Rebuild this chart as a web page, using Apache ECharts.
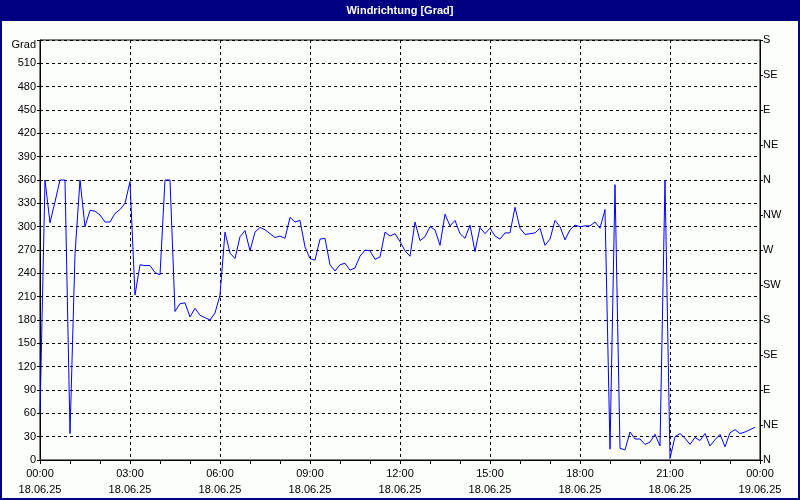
<!DOCTYPE html>
<html><head><meta charset="utf-8">
<script src="https://cdn.jsdelivr.net/npm/echarts@6/dist/echarts.min.js"></script>
<style>html,body{margin:0;padding:0;background:#fcfefc}#c{width:800px;height:500px}</style>
</head><body><div id="c"></div>
<script>
const chartTitle = 'Windrichtung [Grad]';
const leftAxisName = 'Grad';
// samples every 10 minutes starting 18.06.25 00:00
const sampleStartMinute = 0;
const sampleStepMinutes = 10;
const direction = [
  60,360,305,332,360,360,34,265,360,300,
  321,320,315,306,306,317,322,330,358,212,
  251,250,250,241,238,360,360,191,201,202,
  184,195,186,183,180,189,212,293,266,259,
  287,295,269,293,299,296,291,286,288,285,
  312,306,308,274,259,257,284,285,251,243,
  251,253,244,247,262,270,269,258,261,293,
  288,291,281,269,262,306,282,287,300,296,
  276,316,301,308,291,285,302,268,299,291,
  298,288,284,292,292,325,298,290,291,292,
  298,276,284,308,300,283,296,302,300,301,
  301,306,298,322,14,354,15,13,36,27,
  27,20,23,33,18,360,2,30,34,28,
  20,29,25,34,18,26,33,17,35,39,
  34,36,39,42
];
const xTickTimes = ['00:00','03:00','06:00','09:00','12:00','15:00','18:00','21:00','00:00'];
const xTickDates = ['18.06.25','18.06.25','18.06.25','18.06.25','18.06.25','18.06.25','18.06.25','18.06.25','19.06.25'];
const compassLabels = ['N','NE','E','SE','S','SW','W','NW','N','NE','E','SE','S'];

const seriesData = direction.map((v, i) => [sampleStartMinute + i * sampleStepMinutes, v]);
const FONT = 'Liberation Sans';
const chart = echarts.init(document.getElementById('c'), null, {renderer: 'canvas'});
chart.setOption({
  animation: false,
  backgroundColor: '#fcfefc',
  textStyle: {fontFamily: FONT},
  grid: {left: 40, right: 40, top: 40, bottom: 40, show: true, borderColor: '#000', borderWidth: 1, backgroundColor: 'transparent'},
  graphic: [
    {type: 'rect', shape: {x: 0, y: 0, width: 800, height: 21}, style: {fill: '#000080'}, z: 100},
    {type: 'rect', shape: {x: 0, y: 0, width: 800, height: 500}, style: {fill: 'none', stroke: '#000080', lineWidth: 4}, z: 100},
    {type: 'text', x: 400, y: 11, style: {text: chartTitle, fill: '#ffffff', font: 'bold 11px "Liberation Sans"', textAlign: 'center', textVerticalAlign: 'middle'}, z: 101}
  ],
  xAxis: {
    type: 'value', min: 0, max: 1440, interval: 180,
    axisLine: {show: true, lineStyle: {color: '#000', width: 1}},
    axisTick: {show: true, length: 4, lineStyle: {color: '#000'}},
    minorTick: {show: true, splitNumber: 3, length: 4, lineStyle: {color: '#000'}},
    splitLine: {show: true, lineStyle: {color: '#000', type: [3, 3], width: 1}},
    axisLabel: {
      color: '#000', fontSize: 11, fontFamily: FONT, lineHeight: 16, margin: 6,
      formatter: v => { const i = Math.round(v / 180); return xTickTimes[i] + '\n' + xTickDates[i]; }
    }
  },
  yAxis: [
    {
      type: 'value', min: 0, max: 540, interval: 30, position: 'left',
      axisLine: {show: true, lineStyle: {color: '#000'}},
      axisTick: {show: true, length: 3, lineStyle: {color: '#000'}},
      splitLine: {show: true, lineStyle: {color: '#000', type: [3, 3], width: 1}},
      axisLabel: {
        color: '#000', fontSize: 11, fontFamily: FONT, margin: 4,
        formatter: v => v === 540 ? '{g|' + leftAxisName + '}' : String(v),
        rich: {g: {fontSize: 11, fontFamily: FONT, color: '#000', padding: [9, 0, 0, 0]}}
      }
    },
    {
      type: 'value', min: 0, max: 540, interval: 45, position: 'right',
      axisLine: {show: true, lineStyle: {color: '#000'}},
      axisTick: {show: true, length: 3, lineStyle: {color: '#000'}},
      splitLine: {show: false},
      axisLabel: {
        color: '#000', fontSize: 11, fontFamily: FONT, margin: 3, align: 'left',
        formatter: v => compassLabels[Math.round(v / 45)]
      }
    }
  ],
  series: [{
    type: 'line', yAxisIndex: 0, data: seriesData, showSymbol: false, symbol: 'none',
    lineStyle: {color: '#0000ff', width: 1}, z: 5
  }]
});
</script></body></html>
